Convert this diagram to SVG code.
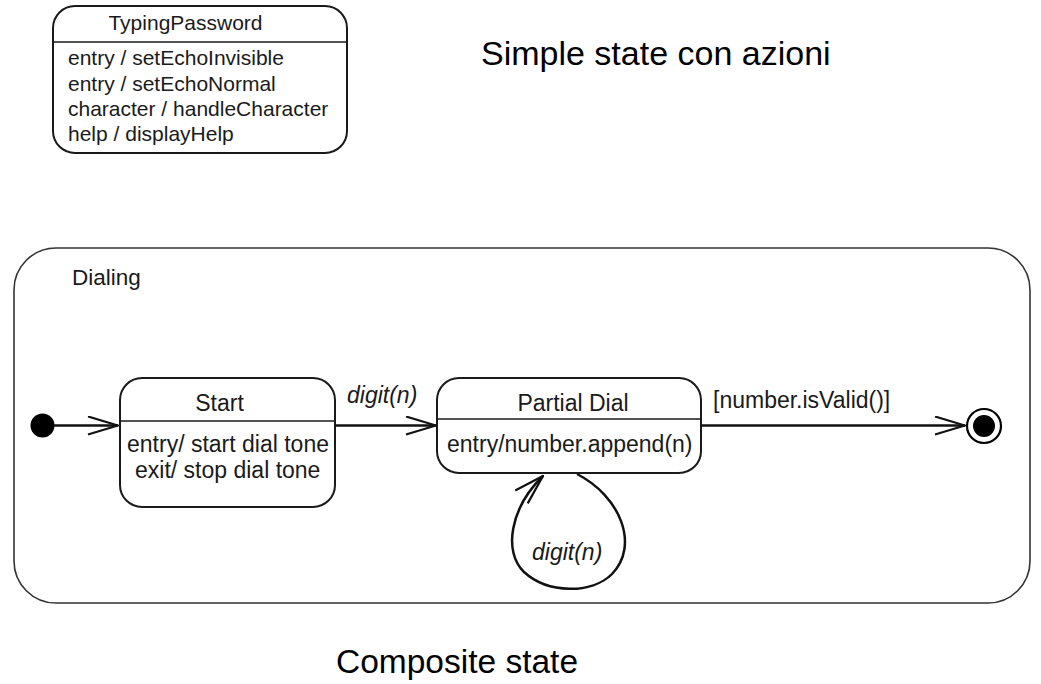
<svg xmlns="http://www.w3.org/2000/svg" width="1041" height="684" viewBox="0 0 1041 684">
<style>
  text { font-family: "Liberation Sans", Arial, sans-serif; fill: #1a1a1a; }
  .box { fill: #ffffff; stroke: #1a1a1a; stroke-width: 2; }
  .div { stroke: #1a1a1a; stroke-width: 1.6; }
  .t21 { font-size: 21px; }
  .t23 { font-size: 23px; }
  .it { font-style: italic; }
  .big { font-size: 34px; fill: #000; }
  .edge { fill: none; stroke: #111; stroke-width: 2.5; }
</style>
<defs>
  <marker id="open" viewBox="0 0 32 20" refX="31" refY="10" markerWidth="32" markerHeight="20" markerUnits="userSpaceOnUse" orient="auto">
    <path d="M1,1 L31,10 L1,19" fill="none" stroke="#111" stroke-width="2.2"/>
  </marker>
</defs>
<rect width="1041" height="684" fill="#ffffff"/>

<g id="typingPassword">
  <rect class="box" x="53" y="6" width="294" height="147" rx="22" ry="22"/>
  <line class="div" x1="53" y1="42" x2="347" y2="42"/>
  <text class="t21" x="185.5" y="30" text-anchor="middle">TypingPassword</text>
  <text class="t21" x="68" y="65">entry / setEchoInvisible</text>
  <text class="t21" x="68" y="90.5">entry / setEchoNormal</text>
  <text class="t21" x="68" y="116">character / handleCharacter</text>
  <text class="t21" x="68" y="141">help / displayHelp</text>
</g>

<text class="big" x="481" y="65">Simple state con azioni</text>

<g id="dialing">
  <rect x="14" y="248" width="1016" height="355" rx="42" ry="42" fill="none" stroke="#333" stroke-width="1.6"/>
  <text x="72" y="285" style="font-size:22.5px">Dialing</text>
</g>

<g id="initial">
  <circle cx="42.5" cy="425.5" r="12" fill="#000"/>
</g>

<g id="start">
  <rect class="box" x="120" y="378" width="215" height="129" rx="22" ry="22"/>
  <line class="div" x1="120" y1="421" x2="335" y2="421"/>
  <text class="t23" x="219.5" y="411" text-anchor="middle">Start</text>
  <text class="t23" x="127" y="452">entry/ start dial tone</text>
  <text class="t23" x="135" y="478">exit/ stop dial tone</text>
</g>

<g id="partialDial">
  <rect class="box" x="437" y="378" width="264" height="95" rx="22" ry="22"/>
  <line class="div" x1="437" y1="419" x2="701" y2="419"/>
  <text class="t23" x="573" y="411" text-anchor="middle">Partial Dial</text>
  <text class="t23" x="447" y="452">entry/number.append(n)</text>
</g>

<g id="final">
  <circle cx="984" cy="426" r="17" fill="#fff" stroke="#000" stroke-width="2.2"/>
  <circle cx="984" cy="426" r="11" fill="#000"/>
</g>

<g id="connectors">
  <path class="edge" d="M54,425.5 L118,425.5" marker-end="url(#open)"/>
  <path class="edge" d="M335,425.5 L436,425.5" marker-end="url(#open)"/>
  <text class="t23 it" x="347" y="403">digit(n)</text>
  <path class="edge" d="M701,425.5 L965,425.5" marker-end="url(#open)"/>
  <text class="t23" x="713" y="408">[number.isValid()]</text>
  <path class="edge" d="M577,474 C620,496 640,545 612,574 C592,594 548,594 524,572 C503,552 510,508 543,476" marker-end="url(#open)"/>
  <text class="t23 it" x="532" y="560">digit(n)</text>
</g>

<text class="big" x="336" y="673" style="font-size:33.5px">Composite state</text>
</svg>
